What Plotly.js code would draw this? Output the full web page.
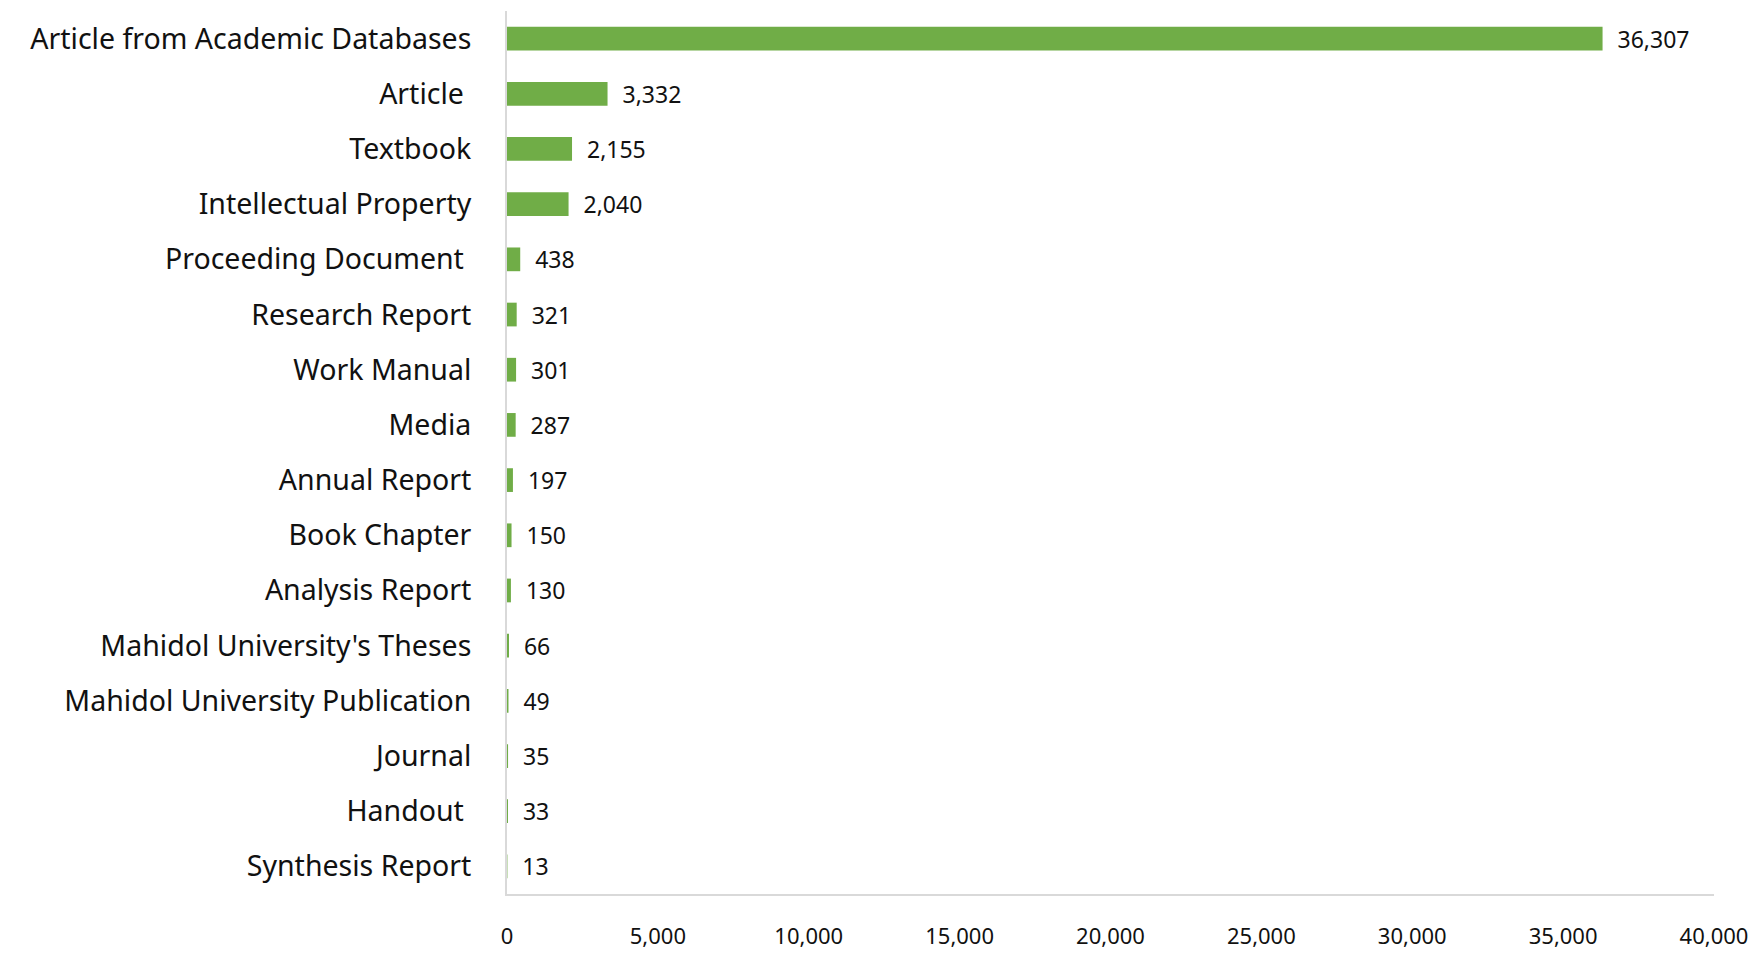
<!DOCTYPE html>
<html>
<head>
<meta charset="utf-8">
<script src="https://cdn.plot.ly/plotly-3.0.1.min.js"></script>
<style>html,body{margin:0;padding:0;background:#fff;}#chart{width:1757px;height:955px;}</style>
</head>
<body>
<div id="chart"></div>
<script>
const categories = [
  "Article from Academic Databases",
  "Article\u00A0",
  "Textbook",
  "Intellectual Property",
  "Proceeding Document\u00A0",
  "Research Report",
  "Work Manual",
  "Media",
  "Annual Report",
  "Book Chapter",
  "Analysis Report",
  "Mahidol University's Theses",
  "Mahidol University Publication",
  "Journal",
  "Handout\u00A0",
  "Synthesis Report"
];
const counts = [36307, 3332, 2155, 2040, 438, 321, 301, 287, 197, 150, 130, 66, 49, 35, 33, 13];
const xTicks = [0, 5000, 10000, 15000, 20000, 25000, 30000, 35000, 40000];

const fontFam = "'Noto Sans', 'DejaVu Sans', sans-serif";

Plotly.newPlot('chart', [{
  type: 'bar',
  orientation: 'h',
  y: categories,
  x: counts,
  marker: {color: '#70AD47'},
  texttemplate: '\u00A0\u00A0%{x:,}',
  textposition: 'outside',
  constraintext: 'none',
  cliponaxis: false,
  textfont: {family: fontFam, size: 23, color: '#111'},
  hoverinfo: 'skip'
}], {
  width: 1757,
  height: 955,
  margin: {l: 507, r: 43, t: 11, b: 61},
  paper_bgcolor: '#fff',
  plot_bgcolor: '#fff',
  bargap: 0.57,
  showlegend: false,
  font: {family: fontFam, color: '#111'},
  xaxis: {
    range: [0, 40000],
    tickvals: xTicks,
    ticktext: xTicks.map(v => v.toLocaleString('en-US')),
    showgrid: false,
    zeroline: false,
    showline: true,
    linecolor: '#D9D9D9',
    linewidth: 2,
    ticks: '',
    ticklabelstandoff: 22,
    tickfont: {family: fontFam, size: 22, color: '#111'}
  },
  yaxis: {
    autorange: 'reversed',
    showgrid: false,
    zeroline: false,
    showline: true,
    linecolor: '#D9D9D9',
    linewidth: 2,
    ticks: '',
    ticklabelstandoff: 28,
    tickfont: {family: fontFam, size: 28.5, color: '#111'}
  }
}, {displayModeBar: false, staticPlot: true});
</script>
</body>
</html>
